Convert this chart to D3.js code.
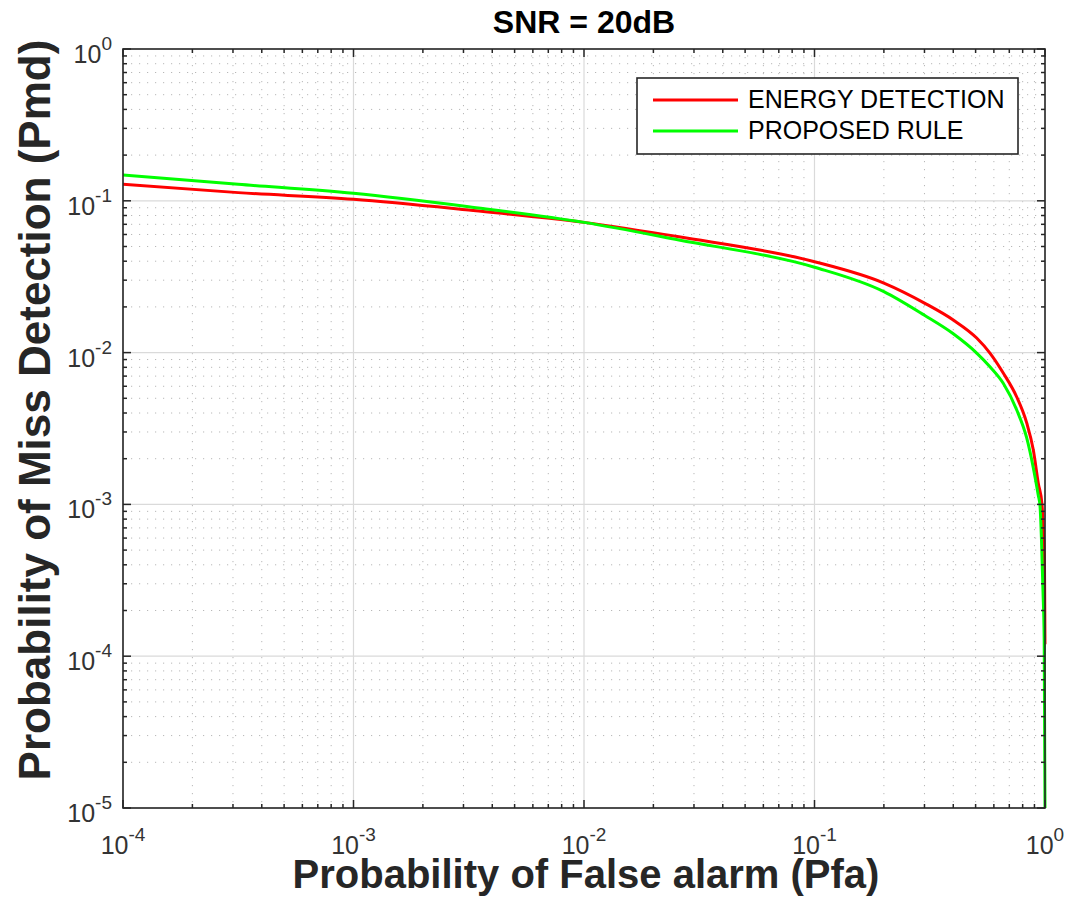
<!DOCTYPE html>
<html>
<head>
<meta charset="utf-8">
<script src="https://cdn.jsdelivr.net/npm/d3@7"></script>
<style>
  html, body { margin: 0; padding: 0; background: #fff; }
  svg { display: block; font-family: "Liberation Sans", Arial, Helvetica, sans-serif; }
</style>
</head>
<body>
<svg id="chart" width="1073" height="912"></svg>
<script>
// Energy detection curve: Pfa vs Pmd
const pfaED = [1e-4, 3.16e-4, 1e-3, 3.16e-3, 1e-2, 0.0258, 0.1, 0.2, 0.3, 0.4, 0.5055, 0.577, 0.659, 0.754, 0.833, 0.89, 0.935, 0.9705, 0.983, 0.995, 0.9999];
const pmdED = [0.1285, 0.1132, 0.1023, 0.0869, 0.0721, 0.0579, 0.0397, 0.0287, 0.0212, 0.0164, 0.01247, 0.00993, 0.00734, 0.0051, 0.00344, 0.00228, 0.00138, 1.0e-3, 6.8e-4, 3.9e-4, 1.2e-4];

// Proposed rule curve: Pfa vs Pmd
const pfaPR = [1e-4, 3.16e-4, 1e-3, 3.16e-3, 1e-2, 0.0258, 0.1, 0.2, 0.3, 0.4, 0.5055, 0.577, 0.659, 0.754, 0.833, 0.89, 0.935, 0.9513, 0.9656, 0.98, 0.992, 1.0];
const pmdPR = [0.148, 0.1285, 0.112, 0.0914, 0.0721, 0.0552, 0.0365, 0.0252, 0.0176, 0.0133, 0.00993, 0.00807, 0.00628, 0.00419, 0.00274, 0.00174, 0.00115, 9.8e-4, 5.8e-4, 2.7e-4, 1.27e-4, 1e-5];

const seriesNames = ["ENERGY DETECTION", "PROPOSED RULE"];
const seriesColors = ["#ff0000", "#00ff00"];

const xDomain = [1e-4, 1];
const yDomain = [1e-5, 1];
const xExponents = [-4, -3, -2, -1, 0];
const yExponents = [-5, -4, -3, -2, -1, 0];

const titleText = "SNR = 20dB";
const xLabel = "Probability of False alarm (Pfa)";
const yLabel = "Probability of Miss Detection (Pmd)";

const plot = { left: 123, right: 1045, top: 49, bottom: 808 };
const svg = d3.select("#chart");

const x = d3.scaleLog().domain(xDomain).range([plot.left, plot.right]);
const y = d3.scaleLog().domain(yDomain).range([plot.bottom, plot.top]);

const isMajor = v => Math.abs(Math.log10(v) - Math.round(Math.log10(v))) < 1e-9;
const xMinor = x.ticks().filter(v => !isMajor(v));
const yMinor = y.ticks().filter(v => !isMajor(v));
const xMajor = xExponents.map(e => Math.pow(10, e));
const yMajor = yExponents.map(e => Math.pow(10, e));

const grid = svg.append("g");
// minor grid: dotted
grid.selectAll(".xmin").data(xMinor).join("line")
  .attr("x1", d => x(d)).attr("x2", d => x(d))
  .attr("y1", plot.top).attr("y2", plot.bottom)
  .attr("stroke", "#b8b8b8").attr("stroke-width", 1).attr("stroke-dasharray", "1.2,6.8");
grid.selectAll(".ymin").data(yMinor).join("line")
  .attr("y1", d => y(d)).attr("y2", d => y(d))
  .attr("x1", plot.left).attr("x2", plot.right)
  .attr("stroke", "#b8b8b8").attr("stroke-width", 1).attr("stroke-dasharray", "1.2,6.8");
// major grid: solid light
grid.selectAll(".xmaj").data(xMajor).join("line")
  .attr("x1", d => x(d)).attr("x2", d => x(d))
  .attr("y1", plot.top).attr("y2", plot.bottom)
  .attr("stroke", "#dadada").attr("stroke-width", 1.2);
grid.selectAll(".ymaj").data(yMajor).join("line")
  .attr("y1", d => y(d)).attr("y2", d => y(d))
  .attr("x1", plot.left).attr("x2", plot.right)
  .attr("stroke", "#dadada").attr("stroke-width", 1.2);

// curves
svg.append("clipPath").attr("id", "plotclip").append("rect")
  .attr("x", plot.left).attr("y", plot.top)
  .attr("width", plot.right - plot.left + 2).attr("height", plot.bottom - plot.top);

const line = d3.line().x(d => x(d[0])).y(d => y(d[1])).curve(d3.curveMonotoneX);
const series = [d3.zip(pfaED, pmdED), d3.zip(pfaPR, pmdPR)];
svg.append("g").attr("clip-path", "url(#plotclip)")
  .selectAll("path").data(series).join("path")
  .attr("d", line)
  .attr("fill", "none")
  .attr("stroke", (d, i) => seriesColors[i])
  .attr("stroke-width", 3);

// axes box with inward ticks on all four sides
const axisColor = "#262626";
const axG = svg.append("g");
function tickMarks(axis, scale, values, len, width) {
  values.forEach(v => {
    const p = scale(v);
    if (axis === "x") {
      axG.append("line").attr("x1", p).attr("x2", p).attr("y1", plot.bottom).attr("y2", plot.bottom - len)
        .attr("stroke", axisColor).attr("stroke-width", width);
      axG.append("line").attr("x1", p).attr("x2", p).attr("y1", plot.top).attr("y2", plot.top + len)
        .attr("stroke", axisColor).attr("stroke-width", width);
    } else {
      axG.append("line").attr("y1", p).attr("y2", p).attr("x1", plot.left).attr("x2", plot.left + len)
        .attr("stroke", axisColor).attr("stroke-width", width);
      axG.append("line").attr("y1", p).attr("y2", p).attr("x1", plot.right).attr("x2", plot.right - len)
        .attr("stroke", axisColor).attr("stroke-width", width);
    }
  });
}
tickMarks("x", x, xMajor, 8, 1.5);
tickMarks("x", x, xMinor, 4, 1.5);
tickMarks("y", y, yMajor, 8, 1.5);
tickMarks("y", y, yMinor, 4, 1.5);
axG.append("rect")
  .attr("x", plot.left).attr("y", plot.top)
  .attr("width", plot.right - plot.left).attr("height", plot.bottom - plot.top)
  .attr("fill", "none").attr("stroke", axisColor).attr("stroke-width", 1.6);

// tick labels 10^n
const labG = svg.append("g").attr("fill", "#333").attr("font-size", 25);
function powLabel(sel, e) {
  sel.append("tspan").text("10");
  sel.append("tspan").attr("font-size", 19).attr("dy", -13).text(String(e));
}
xExponents.forEach(e => {
  const t = labG.append("text").attr("x", x(Math.pow(10, e))).attr("y", 854).attr("text-anchor", "middle");
  powLabel(t, e);
});
yExponents.forEach(e => {
  const t = labG.append("text").attr("x", 112).attr("y", y(Math.pow(10, e)) + 14).attr("text-anchor", "end");
  powLabel(t, e);
});

// titles
svg.append("text").attr("x", 584).attr("y", 33).attr("text-anchor", "middle")
  .attr("font-size", 32).attr("font-weight", "bold").attr("fill", "#000").text(titleText);
svg.append("text").attr("x", 586).attr("y", 888).attr("text-anchor", "middle")
  .attr("font-size", 40).attr("font-weight", "bold").attr("fill", "#262626").text(xLabel);
svg.append("text").attr("transform", "translate(50,410) rotate(-90)").attr("text-anchor", "middle")
  .attr("font-size", 44).attr("font-weight", "bold").attr("fill", "#262626").text(yLabel);

// legend
const leg = svg.append("g");
leg.append("rect").attr("x", 637).attr("y", 78).attr("width", 381).attr("height", 76)
  .attr("fill", "#fff").attr("stroke", axisColor).attr("stroke-width", 1.6);
seriesNames.forEach((name, i) => {
  const yy = 100 + i * 31;
  leg.append("line").attr("x1", 653).attr("x2", 738).attr("y1", yy).attr("y2", yy)
    .attr("stroke", seriesColors[i]).attr("stroke-width", 3);
  leg.append("text").attr("x", 748).attr("y", yy + 7.5).attr("font-size", 25).attr("fill", "#000").text(name);
});
</script>
</body>
</html>
